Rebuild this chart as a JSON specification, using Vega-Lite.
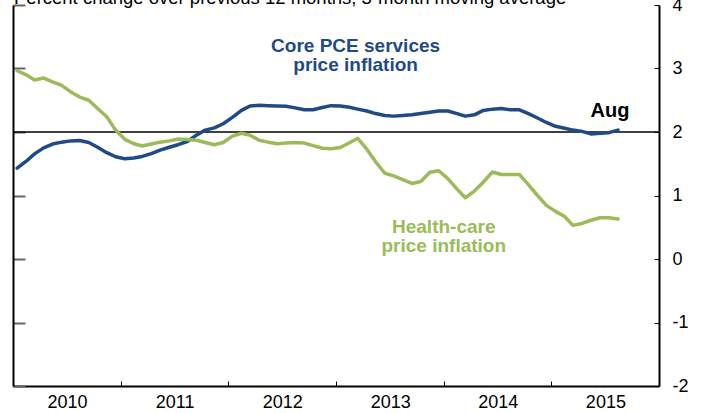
{
  "$schema": "https://vega.github.io/schema/vega-lite/v6.json",
  "width": 646,
  "height": 381,
  "autosize": {"type": "none"},
  "padding": {"left": 13, "top": 5, "right": 48, "bottom": 27},
  "background": "white",
  "config": {
    "view": {"stroke": null},
    "font": "Liberation Sans",
    "axis": {"grid": false, "labelFont": "Liberation Sans", "labelColor": "#000"}
  },
  "datasets": {
    "series": [
      {"d": "2010-01-15", "core": 1.43, "health": 2.965},
      {"d": "2010-02-15", "core": 1.54, "health": 2.9},
      {"d": "2010-03-15", "core": 1.655, "health": 2.82},
      {"d": "2010-04-15", "core": 1.75, "health": 2.85},
      {"d": "2010-05-15", "core": 1.81, "health": 2.79},
      {"d": "2010-06-15", "core": 1.84, "health": 2.735},
      {"d": "2010-07-15", "core": 1.86, "health": 2.635},
      {"d": "2010-08-15", "core": 1.865, "health": 2.55},
      {"d": "2010-09-15", "core": 1.835, "health": 2.5},
      {"d": "2010-10-15", "core": 1.76, "health": 2.37},
      {"d": "2010-11-15", "core": 1.675, "health": 2.24},
      {"d": "2010-12-15", "core": 1.61, "health": 2.03},
      {"d": "2011-01-15", "core": 1.58, "health": 1.885},
      {"d": "2011-02-15", "core": 1.59, "health": 1.815},
      {"d": "2011-03-15", "core": 1.615, "health": 1.78},
      {"d": "2011-04-15", "core": 1.66, "health": 1.81},
      {"d": "2011-05-15", "core": 1.715, "health": 1.84},
      {"d": "2011-06-15", "core": 1.76, "health": 1.86},
      {"d": "2011-07-15", "core": 1.8, "health": 1.89},
      {"d": "2011-08-15", "core": 1.85, "health": 1.88},
      {"d": "2011-09-15", "core": 1.95, "health": 1.87},
      {"d": "2011-10-15", "core": 2.03, "health": 1.835},
      {"d": "2011-11-15", "core": 2.065, "health": 1.8},
      {"d": "2011-12-15", "core": 2.13, "health": 1.835},
      {"d": "2012-01-15", "core": 2.23, "health": 1.935},
      {"d": "2012-02-15", "core": 2.34, "health": 1.98},
      {"d": "2012-03-15", "core": 2.41, "health": 1.95},
      {"d": "2012-04-15", "core": 2.42, "health": 1.87},
      {"d": "2012-05-15", "core": 2.415, "health": 1.84},
      {"d": "2012-06-15", "core": 2.41, "health": 1.815},
      {"d": "2012-07-15", "core": 2.405, "health": 1.825},
      {"d": "2012-08-15", "core": 2.38, "health": 1.835},
      {"d": "2012-09-15", "core": 2.35, "health": 1.825},
      {"d": "2012-10-15", "core": 2.35, "health": 1.785},
      {"d": "2012-11-15", "core": 2.385, "health": 1.745},
      {"d": "2012-12-15", "core": 2.415, "health": 1.735},
      {"d": "2013-01-15", "core": 2.41, "health": 1.755},
      {"d": "2013-02-15", "core": 2.39, "health": 1.83},
      {"d": "2013-03-15", "core": 2.36, "health": 1.9},
      {"d": "2013-04-15", "core": 2.33, "health": 1.73},
      {"d": "2013-05-15", "core": 2.29, "health": 1.53},
      {"d": "2013-06-15", "core": 2.26, "health": 1.35},
      {"d": "2013-07-15", "core": 2.25, "health": 1.31},
      {"d": "2013-08-15", "core": 2.26, "health": 1.25},
      {"d": "2013-09-15", "core": 2.27, "health": 1.19},
      {"d": "2013-10-15", "core": 2.29, "health": 1.22},
      {"d": "2013-11-15", "core": 2.31, "health": 1.365},
      {"d": "2013-12-15", "core": 2.33, "health": 1.39},
      {"d": "2014-01-15", "core": 2.33, "health": 1.265},
      {"d": "2014-02-15", "core": 2.29, "health": 1.1},
      {"d": "2014-03-15", "core": 2.25, "health": 0.965},
      {"d": "2014-04-15", "core": 2.27, "health": 1.07},
      {"d": "2014-05-15", "core": 2.34, "health": 1.21},
      {"d": "2014-06-15", "core": 2.36, "health": 1.37},
      {"d": "2014-07-15", "core": 2.37, "health": 1.33},
      {"d": "2014-08-15", "core": 2.35, "health": 1.33},
      {"d": "2014-09-15", "core": 2.35, "health": 1.33},
      {"d": "2014-10-15", "core": 2.29, "health": 1.17},
      {"d": "2014-11-15", "core": 2.22, "health": 1.0},
      {"d": "2014-12-15", "core": 2.15, "health": 0.845},
      {"d": "2015-01-15", "core": 2.09, "health": 0.75},
      {"d": "2015-02-15", "core": 2.06, "health": 0.67},
      {"d": "2015-03-15", "core": 2.03, "health": 0.53},
      {"d": "2015-04-15", "core": 2.01, "health": 0.56},
      {"d": "2015-05-15", "core": 1.97, "health": 0.61},
      {"d": "2015-06-15", "core": 1.98, "health": 0.65},
      {"d": "2015-07-15", "core": 1.99, "health": 0.65},
      {"d": "2015-08-15", "core": 2.03, "health": 0.63}
    ],
    "labels": [
      {"d": "2013-03-08", "v": 3.26, "t": "Core PCE services", "series": "core"},
      {"d": "2013-03-08", "v": 2.96, "t": "price inflation", "series": "core"},
      {"d": "2014-01-01", "v": 0.41, "t": "Health-care", "series": "health"},
      {"d": "2014-01-01", "v": 0.11, "t": "price inflation", "series": "health"}
    ],
    "last": [
      {"d": "2015-07-19", "v": 2.236, "t": "Aug"}
    ],
    "unit": [
      {"d": "2010-01-01", "v": 4, "t": "Percent change over previous 12 months, 3-month moving average"}
    ]
  },
  "layer": [
    {
      "data": {"values": [{}]},
      "mark": {"type": "rule", "color": "#000", "strokeWidth": 1.5},
      "encoding": {
        "y": {
          "datum": 2,
          "type": "quantitative",
          "scale": {"domain": [-2, 4], "nice": false, "zero": false},
          "axis": {
            "orient": "left",
            "values": [-2, -1, 0, 1, 2, 3, 4],
            "labels": false,
            "title": null,
            "ticks": true,
            "tickSize": -12,
            "tickColor": "#666666",
            "tickWidth": 2,
            "domain": true,
            "domainColor": "#000",
            "domainWidth": 2
          }
        }
      }
    },
    {
      "data": {"name": "series"},
      "transform": [{"fold": ["core", "health"], "as": ["series", "value"]}],
      "mark": {"type": "line", "strokeWidth": 3.5, "strokeCap": "round", "strokeJoin": "round"},
      "encoding": {
        "x": {
          "field": "d",
          "type": "temporal",
          "scale": {
            "type": "utc",
            "domain": [
              {"year": 2010, "month": 1, "date": 1, "utc": true},
              {"year": 2016, "month": 1, "date": 1, "utc": true}
            ]
          },
          "axis": {
            "orient": "bottom",
            "title": null,
            "values": [
              {"year": 2010, "month": 1, "date": 1, "utc": true},
              {"year": 2011, "month": 1, "date": 1, "utc": true},
              {"year": 2012, "month": 1, "date": 1, "utc": true},
              {"year": 2013, "month": 1, "date": 1, "utc": true},
              {"year": 2014, "month": 1, "date": 1, "utc": true},
              {"year": 2015, "month": 1, "date": 1, "utc": true}
            ],
            "format": "%Y",
            "labelOffset": 54,
            "labelFlush": false,
            "labelOverlap": false,
            "labelFontSize": 18,
            "labelPadding": 12,
            "tickSize": -5,
            "tickColor": "#000",
            "tickWidth": 1,
            "domainColor": "#000",
            "domainWidth": 2
          }
        },
        "y": {
          "field": "value",
          "type": "quantitative",
          "axis": {
            "orient": "right",
            "title": null,
            "values": [-2, -1, 0, 1, 2, 3, 4],
            "labelExpr": "datum.value < 0 ? '-' + abs(datum.value) : '' + datum.value",
            "labelFontSize": 18,
            "labelAlign": "left",
            "labelPadding": 18,
            "labelFlush": false,
            "labelOverlap": false,
            "tickSize": -5,
            "tickColor": "#000",
            "tickWidth": 1,
            "domainColor": "#000",
            "domainWidth": 2
          }
        },
        "color": {
          "field": "series",
          "type": "nominal",
          "scale": {"domain": ["core", "health"], "range": ["#1f4a86", "#9bbb59"]},
          "legend": null
        }
      }
    },
    {
      "data": {"name": "labels"},
      "mark": {"type": "text", "font": "Liberation Sans", "fontSize": 19, "fontWeight": "bold", "align": "center", "baseline": "alphabetic"},
      "encoding": {
        "x": {"field": "d", "type": "temporal", "axis": null},
        "y": {"field": "v", "type": "quantitative", "axis": null},
        "text": {"field": "t"},
        "color": {"field": "series", "type": "nominal", "legend": null}
      }
    },
    {
      "data": {"name": "last"},
      "mark": {"type": "text", "font": "Liberation Sans", "fontSize": 20, "fontWeight": "bold", "align": "center", "baseline": "alphabetic", "color": "#000"},
      "encoding": {
        "x": {"field": "d", "type": "temporal", "axis": null},
        "y": {"field": "v", "type": "quantitative", "axis": null},
        "text": {"field": "t"}
      }
    },
    {
      "data": {"name": "unit"},
      "mark": {"type": "text", "font": "Liberation Sans", "fontSize": 18.5, "align": "left", "baseline": "alphabetic", "color": "#000", "dx": 1, "dy": -1.5},
      "encoding": {
        "x": {"field": "d", "type": "temporal", "axis": null},
        "y": {"field": "v", "type": "quantitative", "axis": null},
        "text": {"field": "t"}
      }
    }
  ],
  "resolve": {"axis": {"y": "independent", "x": "independent"}}
}
